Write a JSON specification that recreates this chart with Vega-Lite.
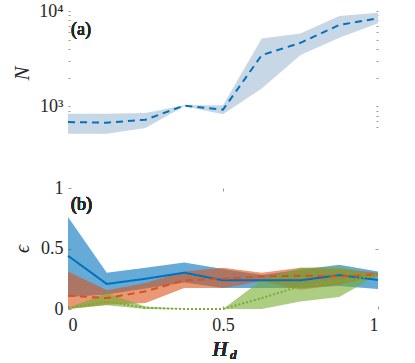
{
  "$schema": "https://vega.github.io/schema/vega-lite/v6.json",
  "padding": {"left": 11, "top": 2, "right": 30, "bottom": 2},
  "spacing": 44,
  "config": {
    "view": {"stroke": null},
    "font": "Liberation Serif",
    "text": {"font": "Liberation Serif", "fontWeight": "normal"},
    "axis": {"labelFont": "Liberation Serif", "titleFont": "Liberation Serif", "labelFontSize": 18, "labelFontWeight": "normal", "labelColor": "#262626", "titleColor": "#262626", "grid": false, "domain": false, "tickColor": "#999999"}
  },
  "datasets": {
    "top": [
      {"x": 0, "m": 684, "lo": 516, "hi": 837},
      {"x": 0.125, "m": 673, "lo": 516, "hi": 837},
      {"x": 0.25, "m": 724, "lo": 591, "hi": 850},
      {"x": 0.375, "m": 1017, "lo": 1000, "hi": 1024},
      {"x": 0.5, "m": 923, "lo": 824, "hi": 1024},
      {"x": 0.625, "m": 3444, "lo": 1536, "hi": 5155},
      {"x": 0.75, "m": 4637, "lo": 3444, "hi": 5820},
      {"x": 0.875, "m": 7130, "lo": 5235, "hi": 8850},
      {"x": 1, "m": 8380, "lo": 7420, "hi": 9600}
    ],
    "bot": [
      {"s": "a", "x": 0, "m": 0.44, "lo": 0.10, "hi": 0.76},
      {"s": "a", "x": 0.125, "m": 0.207, "lo": 0.12, "hi": 0.30},
      {"s": "a", "x": 0.25, "m": 0.25, "lo": 0.17, "hi": 0.34},
      {"s": "a", "x": 0.375, "m": 0.30, "lo": 0.22, "hi": 0.385},
      {"s": "a", "x": 0.5, "m": 0.237, "lo": 0.174, "hi": 0.33},
      {"s": "a", "x": 0.625, "m": 0.237, "lo": 0.174, "hi": 0.28},
      {"s": "a", "x": 0.75, "m": 0.237, "lo": 0.174, "hi": 0.325},
      {"s": "a", "x": 0.875, "m": 0.28, "lo": 0.19, "hi": 0.366},
      {"s": "a", "x": 1, "m": 0.24, "lo": 0.165, "hi": 0.31},
      {"s": "b", "x": 0, "m": 0.11, "lo": 0.0, "hi": 0.31},
      {"s": "b", "x": 0.125, "m": 0.09, "lo": 0.036, "hi": 0.155},
      {"s": "b", "x": 0.25, "m": 0.146, "lo": 0.05, "hi": 0.215},
      {"s": "b", "x": 0.375, "m": 0.237, "lo": 0.174, "hi": 0.31},
      {"s": "b", "x": 0.5, "m": 0.25, "lo": 0.174, "hi": 0.34},
      {"s": "b", "x": 0.625, "m": 0.27, "lo": 0.23, "hi": 0.30},
      {"s": "b", "x": 0.75, "m": 0.275, "lo": 0.16, "hi": 0.34},
      {"s": "b", "x": 0.875, "m": 0.27, "lo": 0.20, "hi": 0.33},
      {"s": "b", "x": 1, "m": 0.284, "lo": 0.27, "hi": 0.30},
      {"s": "c", "x": 0, "m": 0.01, "lo": 0.0, "hi": 0.01},
      {"s": "c", "x": 0.125, "m": 0.06, "lo": 0.03, "hi": 0.13},
      {"s": "c", "x": 0.25, "m": 0.01, "lo": 0.0, "hi": 0.02},
      {"s": "c", "x": 0.375, "m": 0.0, "lo": 0.0, "hi": 0.0},
      {"s": "c", "x": 0.5, "m": 0.0, "lo": 0.0, "hi": 0.0},
      {"s": "c", "x": 0.625, "m": 0.09, "lo": 0.0, "hi": 0.24},
      {"s": "c", "x": 0.75, "m": 0.19, "lo": 0.063, "hi": 0.34},
      {"s": "c", "x": 0.875, "m": 0.23, "lo": 0.10, "hi": 0.35},
      {"s": "c", "x": 1, "m": 0.28, "lo": 0.28, "hi": 0.28}
    ]
  },
  "vconcat": [
    {
      "width": 310,
      "height": 124,
      "data": {"name": "top"},
      "layer": [
        {
          "layer": [
            {
              "mark": {"type": "area", "color": "#c8d7e6", "opacity": 1},
              "encoding": {
                "x": {"field": "x", "type": "quantitative", "scale": {"domain": [0, 1]}, "axis": {"orient": "top", "domain": true, "domainColor": "#8c8c8c", "labels": false, "ticks": false, "title": null}},
                "y": {"field": "lo", "type": "quantitative", "scale": {"type": "log", "domain": [500, 10000], "nice": false}, "axis": {"orient": "left", "values": [600, 700, 800, 900, 1000, 2000, 3000, 4000, 5000, 6000, 7000, 8000, 9000, 10000], "labelExpr": "datum.value == 1000 ? '10³' : datum.value == 10000 ? '10⁴' : ''", "tickSize": -2, "labelPadding": 7, "title": "N", "titleFontStyle": "italic", "titleFontWeight": "normal", "titleFontSize": 21, "titlePadding": 6}},
                "y2": {"field": "hi"}
              }
            },
            {
              "mark": {"type": "line", "color": "#0072BD", "strokeWidth": 2, "strokeDash": [7, 5]},
              "encoding": {
                "x": {"field": "x", "type": "quantitative"},
                "y": {"field": "m", "type": "quantitative"}
              }
            },
            {
              "mark": {"type": "text", "text": "(a)", "align": "left", "baseline": "middle", "fontSize": 18, "fontWeight": "normal", "font": "Liberation Serif", "color": "#262626"},
              "encoding": {"x": {"datum": 0.01}, "y": {"datum": 6300}}
            }
          ]
        },
        {
          "mark": {"type": "line", "opacity": 0},
          "encoding": {
            "x": {"field": "x", "type": "quantitative", "scale": {"domain": [0, 1]}, "axis": null},
            "y": {"field": "m", "type": "quantitative", "scale": {"type": "log", "domain": [500, 10000], "nice": false}, "axis": {"orient": "right", "values": [600, 700, 800, 900, 1000, 2000, 3000, 4000, 5000, 6000, 7000, 8000, 9000, 10000], "labels": false, "tickSize": -2, "title": null}}
          }
        }
      ],
      "resolve": {"scale": {"y": "independent"}}
    },
    {
      "width": 310,
      "height": 121,
      "data": {"name": "bot"},
      "layer": [
        {
          "layer": [
            {
              "mark": {"type": "area", "opacity": 0.6},
              "encoding": {
                "x": {"field": "x", "type": "quantitative", "scale": {"domain": [0, 1]}, "axis": {"orient": "bottom", "values": [0, 0.5, 1], "labelExpr": "datum.value == 0.5 ? '0.5' : format(datum.value, 'd')", "tickSize": -3, "labelPadding": 10, "title": null}},
                "y": {"field": "lo", "type": "quantitative", "scale": {"domain": [0, 1]}, "axis": {"orient": "left", "values": [0, 0.5, 1], "labelExpr": "datum.value == 0.5 ? '0.5' : format(datum.value, 'd')", "tickSize": -3, "labelPadding": 8, "title": "ϵ", "titleFontStyle": "italic", "titleFontWeight": "normal", "titleFontSize": 20, "titlePadding": 8}},
                "y2": {"field": "hi"},
                "color": {"field": "s", "type": "nominal", "scale": {"domain": ["a", "b", "c"], "range": ["#0072BD", "#D95319", "#77AC30"]}, "legend": null}
              }
            },
            {
              "mark": {"type": "line", "strokeWidth": 2},
              "encoding": {
                "x": {"field": "x", "type": "quantitative"},
                "y": {"field": "m", "type": "quantitative"},
                "color": {"field": "s", "type": "nominal", "legend": null},
                "strokeDash": {"field": "s", "type": "nominal", "scale": {"domain": ["a", "b", "c"], "range": [[1, 0], [7, 5], [2, 2]]}, "legend": null}
              }
            },
            {
              "mark": {"type": "text", "text": "(b)", "align": "left", "baseline": "middle", "fontSize": 18, "fontWeight": "normal", "font": "Liberation Serif", "color": "#262626"},
              "encoding": {"x": {"datum": 0.01}, "y": {"datum": 0.86}}
            },
            {
              "mark": {"type": "text", "text": "H", "align": "center", "baseline": "middle", "fontSize": 20, "fontStyle": "italic", "fontWeight": "normal", "font": "Liberation Serif", "color": "#262626"},
              "encoding": {"x": {"datum": 0.49}, "y": {"datum": -0.34}}
            },
            {
              "mark": {"type": "text", "text": "d", "align": "center", "baseline": "middle", "fontSize": 13, "fontStyle": "italic", "fontWeight": "normal", "font": "Liberation Serif", "color": "#262626"},
              "encoding": {"x": {"datum": 0.533}, "y": {"datum": -0.38}}
            }
          ]
        },
        {
          "mark": {"type": "line", "opacity": 0},
          "encoding": {
            "x": {"field": "x", "type": "quantitative", "scale": {"domain": [0, 1]}, "axis": {"orient": "top", "values": [0.5], "labels": false, "tickSize": -3, "title": null}},
            "y": {"field": "m", "type": "quantitative", "scale": {"domain": [0, 1]}, "axis": {"orient": "right", "values": [0.5], "labels": false, "tickSize": -3, "title": null}},
            "detail": {"field": "s", "type": "nominal"}
          }
        }
      ],
      "resolve": {"scale": {"x": "independent", "y": "independent"}}
    }
  ]
}
